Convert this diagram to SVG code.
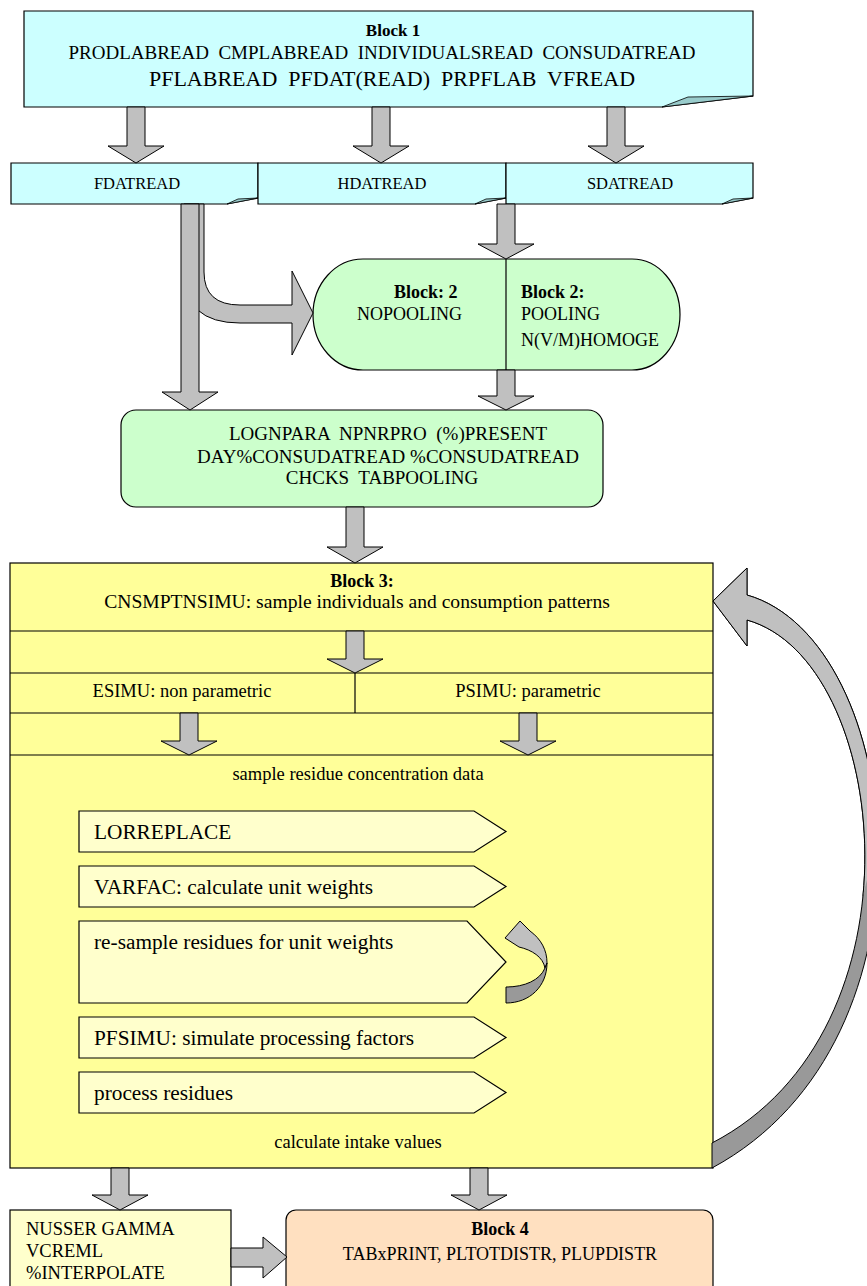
<svg xmlns="http://www.w3.org/2000/svg" width="867" height="1286" viewBox="0 0 867 1286">
<style>
text{font-family:"Liberation Serif","Times New Roman",serif;fill:#000}
.b{font-weight:bold}
.ar{fill:#c0c0c0;stroke:#000;stroke-width:1}
.cy{fill:#ccffff;stroke:#000;stroke-width:1.2}
.fold{fill:#99cccc;stroke:#000;stroke-width:0.8}
.gr{fill:#ccffcc;stroke:#000;stroke-width:1.2}
.ye{fill:#ffff99;stroke:#000;stroke-width:1.2}
.ly{fill:#ffffcc;stroke:#000;stroke-width:1.2}
.pe{fill:#ffe0c0;stroke:#000;stroke-width:1.2}
.ln{stroke:#000;stroke-width:1.2;fill:none}
.pt{font-size:21.3px}
</style>
<defs>
<clipPath id="topclip"><polygon points="690,540 867,540 867,880 835,1000 690,1000"/></clipPath>
</defs>

<g id="block1">
<path class="cy" d="M24 11 H753 V96 L662 107 H24 Z"/>
<polygon class="fold" points="662,107 688,97 753,96"/>
<text class="b" x="393" y="36" font-size="17" text-anchor="middle">Block 1</text>
<text x="382" y="59" font-size="19" text-anchor="middle" xml:space="preserve">PRODLABREAD  CMPLABREAD  INDIVIDUALSREAD  CONSUDATREAD</text>
<text x="392" y="86" font-size="22" text-anchor="middle" xml:space="preserve">PFLABREAD  PFDAT(READ)  PRPFLAB  VFREAD</text>
</g>

<g id="fdatread">
<path class="cy" d="M11 163 H258 V198 L227 204 H11 Z"/>
<polygon class="fold" points="227,204 238,199 258,198"/>
<text x="137" y="189" font-size="16.5" text-anchor="middle">FDATREAD</text>
</g>
<g id="hdatread">
<path class="cy" d="M258 163 H506 V198 L475 204 H258 Z"/>
<polygon class="fold" points="475,204 486,199 506,198"/>
<text x="382" y="189" font-size="16.5" text-anchor="middle">HDATREAD</text>
</g>
<g id="sdatread">
<path class="cy" d="M506 163 H753 V198 L722 204 H506 Z"/>
<polygon class="fold" points="722,204 733,199 753,198"/>
<text x="630" y="189" font-size="16.5" text-anchor="middle">SDATREAD</text>
</g>

<g id="block2">
<path class="gr" d="M363 259 L632 259 A48 55.5 0 0 1 632 370 L363 370 A50 55.5 0 0 1 363 259 Z"/>
<line class="ln" x1="506" y1="259" x2="506" y2="370"/>
<text class="b" x="394" y="298" font-size="18">Block: 2</text>
<text x="357" y="320" font-size="18">NOPOOLING</text>
<text class="b" x="521" y="298" font-size="18">Block 2:</text>
<text x="521" y="320" font-size="18">POOLING</text>
<text x="521" y="346" font-size="18">N(V/M)HOMOGE</text>
</g>

<g id="pooling">
<rect class="gr" x="121" y="410" width="482" height="97" rx="15"/>
<text x="388" y="440" font-size="19" text-anchor="middle" xml:space="preserve">LOGNPARA  NPNRPRO  (%)PRESENT</text>
<text x="388" y="463" font-size="19" text-anchor="middle">DAY%CONSUDATREAD %CONSUDATREAD</text>
<text x="382" y="484" font-size="19" text-anchor="middle" xml:space="preserve">CHCKS  TABPOOLING</text>
</g>

<g id="block3">
<rect class="ye" x="10" y="563" width="703" height="605"/>
<line class="ln" x1="10" y1="631" x2="713" y2="631"/>
<line class="ln" x1="10" y1="673" x2="713" y2="673"/>
<line class="ln" x1="10" y1="713" x2="713" y2="713"/>
<line class="ln" x1="10" y1="755" x2="713" y2="755"/>
<line class="ln" x1="355" y1="673" x2="355" y2="713"/>
<text class="b" x="362" y="587" font-size="18" text-anchor="middle">Block 3:</text>
<text x="357" y="608" font-size="19.6" text-anchor="middle">CNSMPTNSIMU: sample individuals and consumption patterns</text>
<text x="182" y="697" font-size="18.5" text-anchor="middle">ESIMU: non parametric</text>
<text x="528" y="697" font-size="18.5" text-anchor="middle">PSIMU: parametric</text>
<text x="358" y="780" font-size="18.5" text-anchor="middle">sample residue concentration data</text>
<text x="358" y="1148" font-size="18.5" text-anchor="middle">calculate intake values</text>
</g>

<g id="lorreplace">
<path class="ly" d="M79 811 L474 811 L506 831.5 L474 852 L79 852 Z"/>
<text class="pt" x="94" y="839">LORREPLACE</text>
</g>
<g id="varfac">
<path class="ly" d="M79 866 L474 866 L506 886.5 L474 907 L79 907 Z"/>
<text class="pt" x="94" y="894">VARFAC: calculate unit weights</text>
</g>
<g id="resample">
<path class="ly" d="M79 921 L467 921 L506 962 L467 1003 L79 1003 Z"/>
<text class="pt" x="94" y="949">re-sample residues for unit weights</text>
</g>
<g id="pfsimu">
<path class="ly" d="M79 1017 L474 1017 L506 1037.5 L474 1058 L79 1058 Z"/>
<text class="pt" x="94" y="1045">PFSIMU: simulate processing factors</text>
</g>
<g id="process">
<path class="ly" d="M79 1072 L474 1072 L506 1092.5 L474 1113 L79 1113 Z"/>
<text class="pt" x="94" y="1100">process residues</text>
</g>

<g id="nusser">
<rect class="ly" x="10" y="1210" width="221" height="90"/>
<text x="26" y="1235" font-size="18.5">NUSSER GAMMA</text>
<text x="26" y="1257" font-size="18.5">VCREML</text>
<text x="26" y="1279" font-size="18.5">%INTERPOLATE</text>
</g>

<g id="block4">
<rect class="pe" x="286" y="1210" width="427" height="90" rx="10"/>
<text class="b" x="500" y="1235" font-size="18" text-anchor="middle">Block 4</text>
<text x="500" y="1260" font-size="18" text-anchor="middle">TABxPRINT, PLTOTDISTR, PLUPDISTR</text>
</g>

<g id="connectors">
<polygon class="ar" points="127,107 145,107 145,146 164,146 136,163 108,146 127,146"/>
<polygon class="ar" points="372,107 390,107 390,146 409,146 381,163 353,146 372,146"/>
<polygon class="ar" points="607,107 625,107 625,146 644,146 616,163 588,146 607,146"/>
<path class="ar" d="M184 204 L204 204 L204 272 Q204 305 240 305 L292 305 L292 271 L313 313 L292 355 L292 323 L240 323 Q184 323 184 272 Z"/>
<polygon class="ar" points="181,204 199,204 199,392 218,392 190,410 162,392 181,392"/>
<polygon class="ar" points="497,204 515,204 515,244 534,244 506,259 478,244 497,244"/>
<polygon class="ar" points="497,370 515,370 515,396 534,396 506,410 478,396 497,396"/>
<polygon class="ar" points="346,507 364,507 364,547 383,547 355,563 327,547 346,547"/>
<polygon class="ar" points="346,631 364,631 364,659 383,659 355,673 327,659 346,659"/>
<polygon class="ar" points="180,713 198,713 198,741 217,741 189,755 161,741 180,741"/>
<polygon class="ar" points="519,713 537,713 537,741 556,741 528,755 500,741 519,741"/>
<polygon class="ar" points="111,1168 129,1168 129,1195 148,1195 120,1210 92,1195 111,1195"/>
<polygon class="ar" points="470,1168 488,1168 488,1195 507,1195 479,1210 451,1195 470,1195"/>
<polygon class="ar" points="231,1248 263,1248 263,1237 287,1257 263,1278 263,1267 231,1267"/>
<path fill="#999999" stroke="#000" stroke-width="1" d="M747 595 L747 568 L713 601 L747 646 L747 620 C890 660 930 1030 712 1143 L712 1168 C950 1040 905 640 747 595 Z"/>
<path clip-path="url(#topclip)" fill="#c0c0c0" stroke="#000" stroke-width="1" d="M747 595 L747 568 L713 601 L747 646 L747 620 C890 660 930 1030 712 1143 L712 1168 C950 1040 905 640 747 595 Z"/>
<path fill="#c0c0c0" stroke="#000" stroke-width="1" d="M520 921 L530 931 C541 939 547 950 547 963 L545 968 C543 957 532 950 519 947 L505 938 Z"/>
<path fill="#999999" stroke="#000" stroke-width="1" d="M547 963 C547 986 530 1003 506 1003 L506 987 C525 987 540 980 545 968 Z"/>
</g>
</svg>
